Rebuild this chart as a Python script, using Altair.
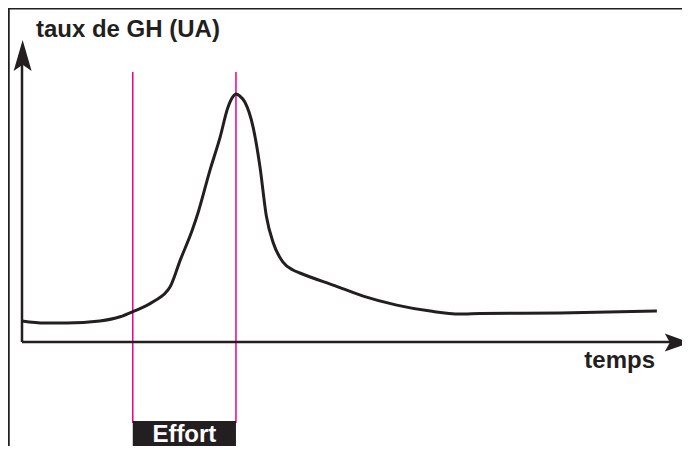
import altair as alt
import pandas as pd

# Courbe du taux de GH (unités arbitraires) en fonction du temps
temps = [0.0, 3.6, 7.1, 12.3, 15.5, 17.5, 20.7, 23.4, 25.0, 26.9, 27.8, 29.7, 31.3, 32.5,
         33.3, 33.8, 34.4, 35.2, 36.5, 37.6, 38.6, 39.7, 41.2, 42.8, 43.9,
         49.5, 53.9, 59.2, 64.5, 69.2, 72.4, 85.0, 100.3]
taux = [7.0, 6.3, 6.3, 7.0, 8.4, 10.1, 13.4, 18.4, 27.3, 37.3, 43.0, 57.3, 68.3, 78.0,
        81.7, 82.7, 82.0, 80.0, 71.7, 58.3, 42.0, 33.0, 26.7, 24.0, 23.0,
        18.7, 15.3, 12.3, 10.3, 9.3, 9.5, 9.7, 10.3]

effort_debut = 17.5
effort_fin = 33.8
effort_label = ["Effort"]

titre_y = "taux de GH (UA)"
titre_x = "temps"

INK = "#231f20"
PINK = "#ec008c"
FONT = "Liberation Sans"
W, H = 674, 438

xs = alt.Scale(domain=[0, 100], range=[14, 647], nice=False, zero=False)
ys = alt.Scale(domain=[0, 100], range=[334, 34], nice=False, zero=False)

def X(field, **kw):
    return alt.X(field, type="quantitative", scale=xs, axis=None, **kw)

def Y(field, **kw):
    return alt.Y(field, type="quantitative", scale=ys, axis=None, **kw)

curve_df = pd.DataFrame({"t": temps, "v": taux})

# frame (decoration)
frame_top = alt.Chart(pd.DataFrame({"a": [0]})).mark_rule(color=INK, strokeWidth=3).encode(
    x=alt.value(0), x2=alt.value(W), y=alt.value(0))
frame_left = alt.Chart(pd.DataFrame({"a": [0]})).mark_rule(color=INK, strokeWidth=2.5).encode(
    x=alt.value(0.5), y=alt.value(0), y2=alt.value(H))

# axes
x_axis = alt.Chart(pd.DataFrame({"t0": [0], "t1": [104], "v": [0]})).mark_rule(
    color=INK, strokeWidth=2.5).encode(x=X("t0"), x2="t1", y=Y("v"))
y_axis = alt.Chart(pd.DataFrame({"t": [0], "v0": [0], "v1": [98]})).mark_rule(
    color=INK, strokeWidth=2.5).encode(x=X("t"), y=Y("v0"), y2="v1")

arrow_up = alt.Chart(pd.DataFrame({"t": [0.1], "v": [100.7]})).mark_point(
    shape="M0,0 L0.58,2 L0,1.6 L-0.58,2 Z", size=961, filled=True, opacity=1,
    color=INK, strokeWidth=0).encode(x=X("t"), y=Y("v"))
arrow_right = alt.Chart(pd.DataFrame({"t": [105.5], "v": [-0.2]})).mark_point(
    shape="M0,0 L-2,-0.72 L-1.6,0 L-2,0.72 Z", size=625, filled=True, opacity=1,
    color=INK, strokeWidth=0).encode(x=X("t"), y=Y("v"))

# effort lines
effort_df = pd.DataFrame({"t": [effort_debut, effort_fin], "v0": [90, 90], "v1": [-27, -27]})
effort_lines = alt.Chart(effort_df).mark_rule(color=PINK, strokeWidth=1.5).encode(
    x=X("t"), y=Y("v0"), y2="v1")

box_df = pd.DataFrame({"t0": [effort_debut], "t1": [effort_fin], "v0": [-26.3], "v1": [-35.0],
                       "label": effort_label, "tm": [(effort_debut + effort_fin) / 2], "vm": [-30.8]})
effort_box = alt.Chart(box_df).mark_rect(color=INK).encode(
    x=X("t0"), x2="t1", y=Y("v0"), y2="v1")
effort_text = alt.Chart(box_df).mark_text(
    font=FONT, fontSize=24, fontWeight="bold", color="white", baseline="middle", align="center",
    dy=1).encode(x=X("tm"), y=Y("vm"), text="label:N")

# curve
curve = alt.Chart(curve_df).mark_line(color=INK, strokeWidth=3, interpolate="monotone").encode(
    x=X("t"), y=Y("v"))

# labels
ylab = alt.Chart(pd.DataFrame({"t": [2.2], "v": [101.7], "s": [titre_y]})).mark_text(
    font=FONT, fontSize=24, fontWeight="bold", color=INK, align="left", baseline="alphabetic"
).encode(x=X("t"), y=Y("v"), text="s:N")
xlab = alt.Chart(pd.DataFrame({"t": [100], "v": [-8.7], "s": [titre_x]})).mark_text(
    font=FONT, fontSize=24, fontWeight="bold", color=INK, align="right", baseline="alphabetic"
).encode(x=X("t"), y=Y("v"), text="s:N")

chart = alt.layer(
    frame_top, frame_left, effort_lines, x_axis, y_axis, arrow_up, arrow_right,
    effort_box, effort_text, curve, ylab, xlab
).properties(
    width=W, height=H,
    autosize=alt.AutoSizeParams(type="none"),
    padding=0,
).configure_view(stroke=None)

chart.save("out.html", embed_options={"renderer": "svg", "actions": False})
